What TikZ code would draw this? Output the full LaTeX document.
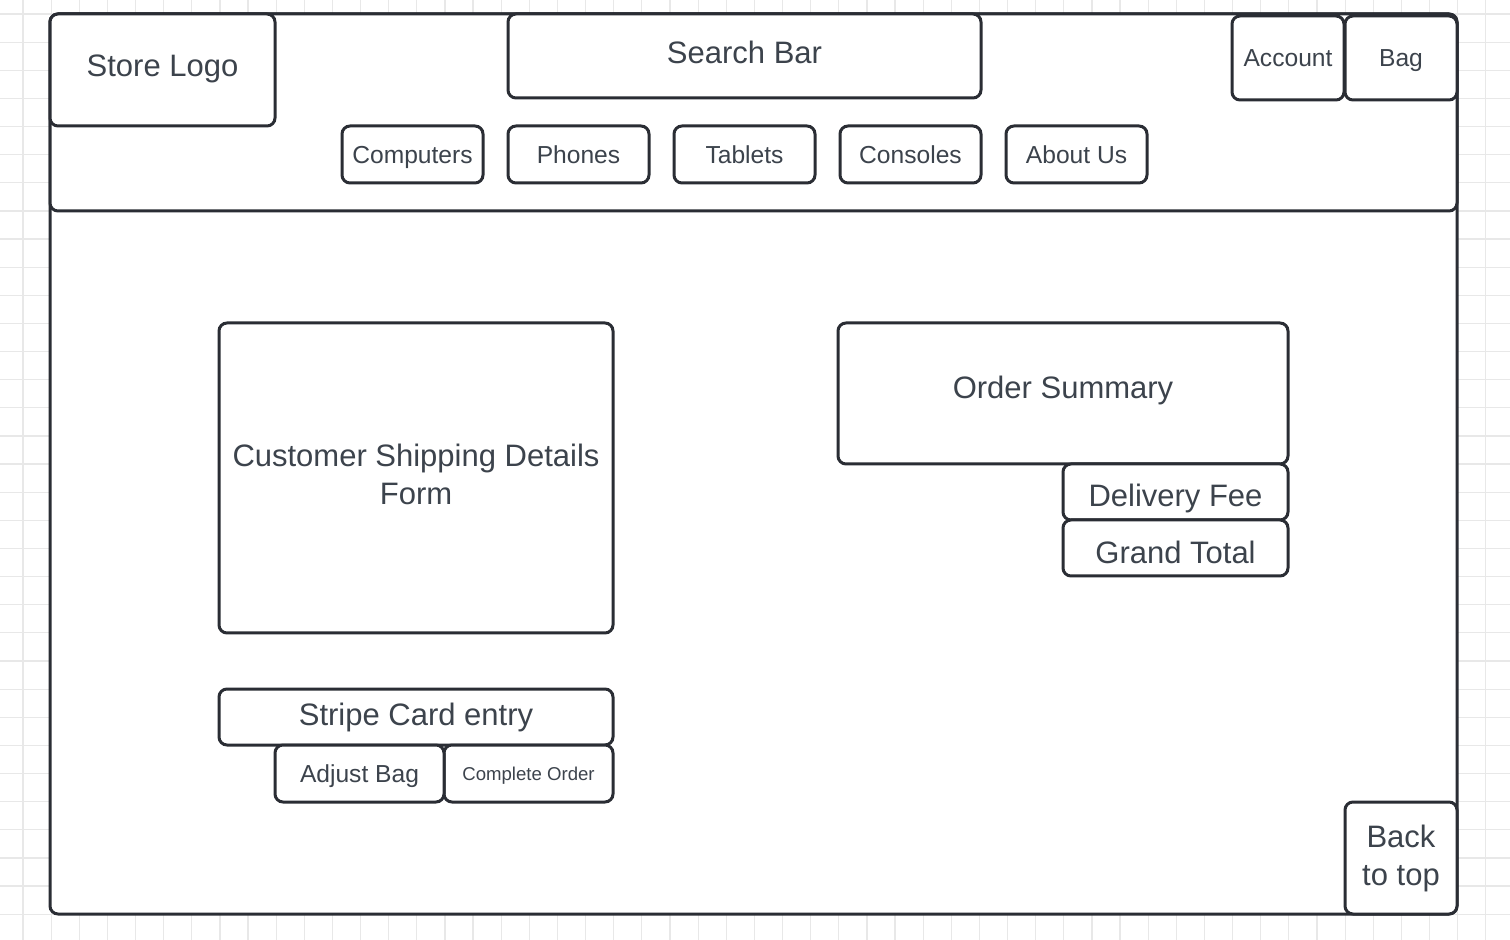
\documentclass[tikz,border=0pt]{standalone}
\usepackage{fontspec}
\setmainfont{Liberation Sans}
\usetikzlibrary{positioning}

\definecolor{linegray}{HTML}{2A2D34}
\definecolor{textgray}{HTML}{3C434C}
\definecolor{gridgray}{HTML}{E8E8E8}

\begin{document}
\begin{tikzpicture}[
    x=0.5pt, y=-0.5pt,
    font=\fontsize{15.5}{19}\selectfont,
    % Styles
    box/.style={
        draw=linegray,
        line width=1.5pt,
        rounded corners=4pt,
        fill=white,
        text=textgray,
        align=center,
        inner sep=0pt,
        outer sep=0pt,
        text height=11.3pt,
        text depth=0pt
    },
    twolines/.style={text height=30.3pt},
    smallfont/.style={font=\fontsize{12.3}{15}\selectfont, text height=9pt},
    navbtn/.style={
        box, smallfont,
        minimum width=70.5pt,
        minimum height=28.5pt
    },
    iconbtn/.style={
        box, smallfont,
        minimum width=56pt,
        minimum height=42pt
    },
    gridline/.style={gridgray, line width=0.6pt}
]

    \useasboundingbox (0,0) rectangle (1510,940);

    % --- BACKGROUND GRID ---
    \foreach \i in {0,...,52}
        \draw[gridline] ({23+28.13*\i},0) -- ({23+28.13*\i},940);
    \foreach \j in {0,...,32}
        \draw[gridline] (0,{14+28.13*\j}) -- (1510,{14+28.13*\j});

    % --- PAGE FRAME ---
    \node[box, minimum width=703.5pt, minimum height=450pt] (page) at (753.5,464) {};
    \node[box, minimum width=703.5pt, minimum height=98.5pt] (header) at (753.5,112.5) {};

    % --- HEADER ---
    \node[box, minimum width=112.5pt, minimum height=56pt, text depth=5pt] (logo) at (162.5,70) {Store Logo};
    \node[box, minimum width=236.5pt, minimum height=42pt, text depth=4pt] (search) at (744.5,56) {Search Bar};
    \node[iconbtn] (account) at (1288,58) {Account};
    \node[iconbtn, right=0.5pt of account] (bag) {Bag};

    % Navigation
    \node[navbtn] (computers) at (412.5,154.5) {Computers};
    \node[navbtn, right=12.5pt of computers] (phones) {Phones};
    \node[navbtn, right=12.5pt of phones] (tablets) {Tablets};
    \node[navbtn, right=12.5pt of tablets] (consoles) {Consoles};
    \node[navbtn, right=12.5pt of consoles] (about) {About Us};

    % --- CHECKOUT ---
    \node[box, twolines, minimum width=197pt, minimum height=155pt, text depth=4pt] (form) at (416,478)
        {Customer Shipping Details\\Form};
    \node[box, minimum width=197pt, minimum height=28pt, text depth=3pt] (stripe) at (416,717) {Stripe Card entry};
    \node[box, minimum width=84.5pt, minimum height=28.5pt,
        below=0pt of stripe.south east, anchor=north east,
        font=\fontsize{9.3}{11}\selectfont, text height=6.8pt] (complete) {Complete Order};
    \node[box, smallfont, minimum width=84.5pt, minimum height=28.5pt,
        left=0pt of complete] (adjust) {Adjust Bag};

    % --- SUMMARY ---
    \node[box, minimum width=225pt, minimum height=70.5pt, text depth=6pt] (summary) at (1063,393.5) {Order Summary};
    \node[box, minimum width=112.5pt, minimum height=28pt, text height=14.3pt,
        below=0pt of summary.south east, anchor=north east] (fee) {Delivery Fee};
    \node[box, minimum width=112.5pt, minimum height=28pt, text height=15.3pt,
        below=0pt of fee] (total) {Grand Total};

    % Footer
    \node[box, twolines, minimum width=56pt, minimum height=56pt, text depth=3.3pt] (backtop) at (1401,858) {Back\\to top};

\end{tikzpicture}
\end{document}
